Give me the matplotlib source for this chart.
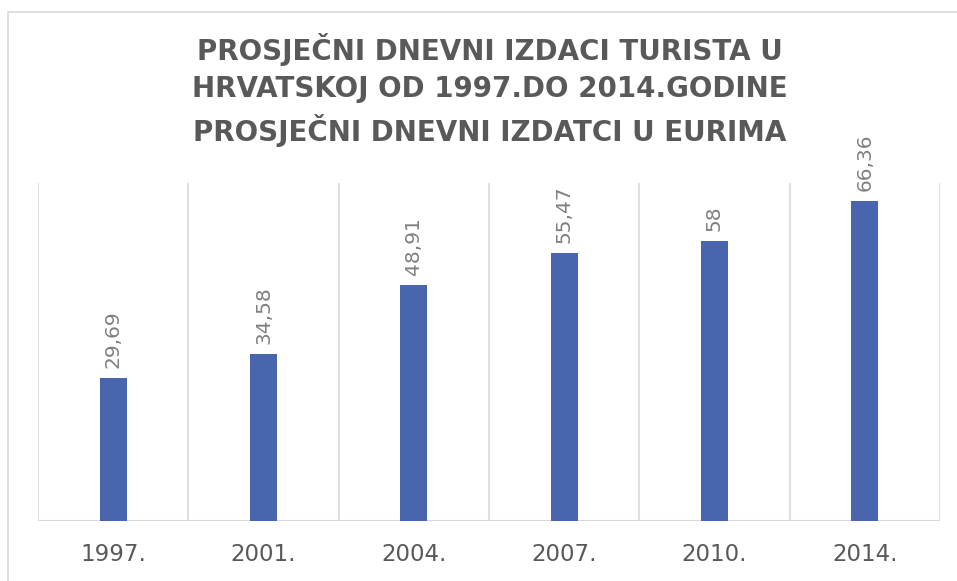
import matplotlib
matplotlib.use("Agg")
import matplotlib.pyplot as plt
from matplotlib.patches import Rectangle

years = ["1997.", "2001.", "2004.", "2007.", "2010.", "2014."]
values = [29.69, 34.58, 48.91, 55.47, 58, 66.36]
labels = ["29,69", "34,58", "48,91", "55,47", "58", "66,36"]
title = "PROSJEČNI DNEVNI IZDACI TURISTA U\nHRVATSKOJ OD 1997.DO 2014.GODINE\nPROSJEČNI DNEVNI IZDATCI U EURIMA"

bar_color = "#4865AE"
grid_color = "#D9D9D9"
text_dark = "#595959"
text_light = "#7F7F7F"

fig = plt.figure(figsize=(9.57, 5.81), dpi=100)
fig.patches.append(Rectangle((8/957, -0.1), 1.2, (581-12)/581 + 0.1, transform=fig.transFigure,
                             fill=False, edgecolor=grid_color, linewidth=1.2))

ax = fig.add_axes([38/957, (581-521)/581, (940-38)/957, (521-183)/581])
x = list(range(len(years)))
ax.bar(x, values, width=0.18, color=bar_color, zorder=3)
ax.set_xlim(-0.5, len(years) - 0.5)
ax.set_ylim(0, 70)

for b in [i - 0.5 for i in range(len(years) + 1)]:
    ax.axvline(b, color=grid_color, linewidth=1.2, zorder=1)

for s in ax.spines.values():
    s.set_visible(False)
ax.axhline(0, color=grid_color, linewidth=1.5, zorder=2)

ax.set_yticks([])
ax.set_xticks(x)
ax.set_xticklabels(years, fontsize=16.5, color=text_dark, family="DejaVu Sans")
ax.tick_params(axis="x", length=0, pad=16)

for xi, v, lab in zip(x, values, labels):
    ax.annotate(lab, (xi, v), xytext=(0, 7), textcoords="offset points",
                rotation=90, ha="center", va="bottom", fontsize=14.5, color=text_light)

fig.text(0.512, 1 - 90/581, title, ha="center", va="center", fontsize=20,
         fontweight="bold", color=text_dark, linespacing=1.42, family="DejaVu Sans")

fig.savefig("out.png", dpi=100)
